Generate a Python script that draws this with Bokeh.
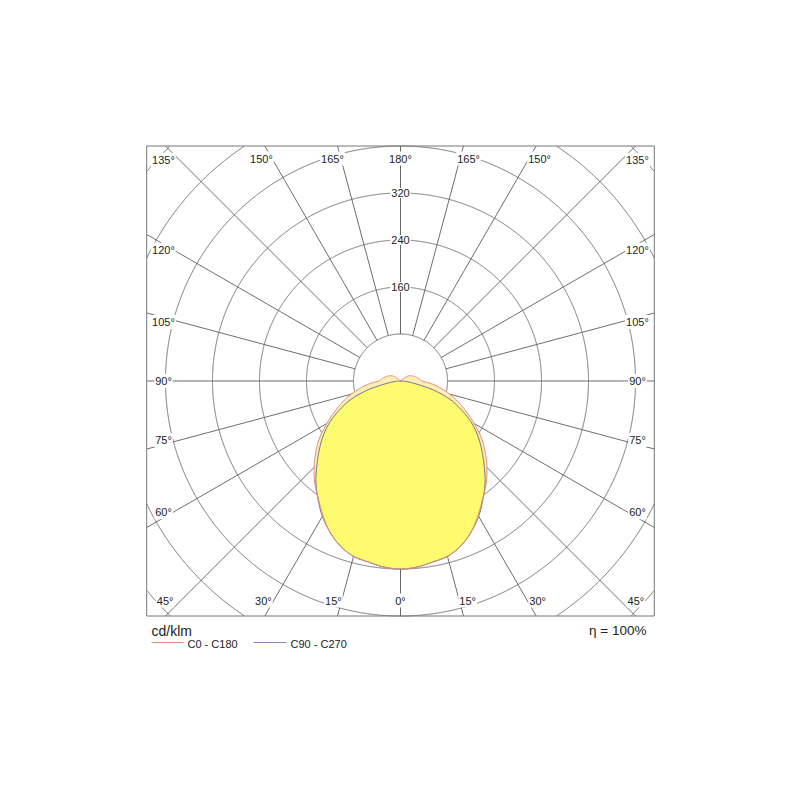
import numpy as np
from bokeh.plotting import figure
from bokeh.models import Range1d
from bokeh.core.properties import value
from bokeh.embed import file_html
from bokeh.resources import INLINE

# ---------------- data (cd/klm) ----------------
gamma_deg = [0, 5, 10, 15, 20, 25, 30, 35, 40, 45, 50, 55, 60, 65, 70, 75, 80, 85, 90,
             95, 100, 105, 110, 115, 120, 125, 130, 135, 140, 145, 150, 155, 160, 165, 170, 175, 180]
c0_c180 = [320, 318, 313, 309, 299, 284, 264, 244, 227, 208, 188, 168, 145, 124, 105, 87, 69, 53, 37,
           33, 30, 27, 24, 21, 18, 14, 6, 0, 0, 0, 0, 0, 0, 0, 0, 0, 0]
c90_c270 = [320, 318, 313, 309, 299, 284, 266, 245, 224, 201, 180, 160, 138, 113, 88, 56, 24, 8, 0,
            0, 0, 0, 0, 0, 0, 0, 0, 0, 0, 0, 0, 0, 0, 0, 0, 0, 0]
ring_values = [80, 160, 240, 320, 400, 480, 560]
ring_labels = ["160", "240", "320"]
ring_label_values = [160, 240, 320]
spoke_angles = [0, 15, 30, 45, 60, 75, 90, 105, 120, 135, 150, 165, 180]
unit_text = "cd/klm"
eta_text = "η = 100%"
legend_names = ["C0 - C180", "C90 - C270"]

# ---------------- geometry ----------------
W = H = 784
S = 0.5875             # px per cd/klm
CX, CY = 400.0, 380.5  # page px of the pole
OFF = 0.0              # page px of figure origin
BOX_X, BOX_Y = 432.0, 400.0


def P(x, y):
    return (x - CX) / S, (CY - y) / S


p = figure(width=W, height=H, output_backend="svg", toolbar_location=None,
           x_axis_type=None, y_axis_type=None, min_border=0,
           x_range=Range1d((OFF - CX) / S, (OFF + W - CX) / S),
           y_range=Range1d((CY - OFF - H) / S, (CY - OFF) / S))
p.outline_line_color = None
p.grid.visible = False
p.background_fill_color = "white"
p.border_fill_color = "white"

GRID = "#666666"

# rings clipped to the box
th = np.linspace(0, 2 * np.pi, 2881)
for r in ring_values:
    x = r * np.cos(th)
    y = r * np.sin(th)
    m = (np.abs(x) <= BOX_X) & (np.abs(y) <= BOX_Y)
    x = np.where(m, x, np.nan)
    y = np.where(m, y, np.nan)
    p.line(x, y, line_color=GRID, line_width=0.95)

# spokes from the 80 ring to the box edge
x0s, y0s, x1s, y1s = [], [], [], []
for g in spoke_angles:
    for sgn in (1, -1):
        gr = np.radians(g)
        dx, dy = sgn * np.sin(gr), -np.cos(gr)
        tx = BOX_X / abs(dx) if abs(dx) > 1e-9 else np.inf
        ty = BOX_Y / abs(dy) if abs(dy) > 1e-9 else np.inf
        t = min(tx, ty)
        x0s.append(80 * dx); y0s.append(80 * dy)
        x1s.append(t * dx); y1s.append(t * dy)
p.segment(x0s, y0s, x1s, y1s, line_color=GRID, line_width=0.95)


def curve(vals, n=8):
    g = np.radians(np.array(gamma_deg, dtype=float))
    v = np.array(vals, dtype=float)
    xr, yr = v * np.sin(g), -v * np.cos(g)
    xl, yl = -xr[::-1], yr[::-1]
    X = np.concatenate([xr, xl[1:-1]])
    Y = np.concatenate([yr, yl[1:-1]])
    # closed Catmull-Rom path through the measured points
    N = len(X)
    t = np.linspace(0, 1, n, endpoint=False)
    ox, oy = [], []
    for i in range(N):
        p0, p1, p2, p3 = (i - 1) % N, i, (i + 1) % N, (i + 2) % N
        for A, out in ((X, ox), (Y, oy)):
            a0, a1, a2, a3 = A[p0], A[p1], A[p2], A[p3]
            out.extend(0.5 * (2 * a1 + (-a0 + a2) * t + (2 * a0 - 5 * a1 + 4 * a2 - a3) * t ** 2
                              + (-a0 + 3 * a1 - 3 * a2 + a3) * t ** 3))
    ox.append(ox[0]); oy.append(oy[0])
    return np.array(ox), np.array(oy)


xa, ya = curve(c0_c180)
xb, yb = curve(c90_c270)
p.patch(xa, ya, fill_color="#fdeeb6", line_color=None)
p.patch(xb, yb, fill_color="#fffb6e", line_color=None)
p.line(xb, yb, line_color="#6f7290", line_width=1)
p.line(xa, ya, line_color="#e58a78", line_width=1)

# box
p.quad(left=-BOX_X, right=BOX_X, bottom=-BOX_Y, top=BOX_Y,
       fill_color=None, line_color="#777777", line_width=1)

FONT = value("Liberation Sans")
TXT = "#222222"

# ring value labels
p.text([0] * len(ring_labels), ring_label_values, text=ring_labels,
       text_font=FONT, text_font_size="11px", text_color=TXT,
       text_align="center", text_baseline="middle",
       background_fill_color="white", padding=1)

# angle labels
IN_SIDE = 237 / S
IN_TOP = 222.5 / S
IN_BOT = 219.5 / S
lx, ly, lt = [], [], []
for g in spoke_angles:
    for sgn in ((1, -1) if g not in (0, 180) else (1,)):
        gr = np.radians(g)
        dx, dy = np.sin(gr), -np.cos(gr)
        hy = IN_TOP if dy > 0 else IN_BOT
        tx = IN_SIDE / abs(dx) if abs(dx) > 1e-9 else np.inf
        ty = hy / abs(dy) if abs(dy) > 1e-9 else np.inf
        ga = g
        if g not in (0, 90, 180):
            step = 2 if ty < tx else 1
            ga = g + step if g < 90 else g - step
        gr = np.radians(ga)
        dx, dy = np.sin(gr), -np.cos(gr)
        hy = IN_TOP if dy > 0 else IN_BOT
        tx = IN_SIDE / abs(dx) if abs(dx) > 1e-9 else np.inf
        ty = hy / abs(dy) if abs(dy) > 1e-9 else np.inf
        t = min(tx, ty)
        lx.append(sgn * t * dx)
        ly.append(t * dy)
        lt.append(f"{g}°")
p.text(lx, ly, text=lt, text_font=FONT, text_font_size="11px", text_color=TXT,
       text_align="center", text_baseline="middle",
       background_fill_color="white", padding=1)

# bottom texts
ux, uy = P(151, 630)
p.text([ux], [uy], text=[unit_text], text_font=FONT, text_font_size="14px",
       text_color=TXT, text_align="left", text_baseline="middle")
ex, ey = P(646, 630)
p.text([ex], [ey], text=[eta_text], text_font=FONT, text_font_size="13.5px",
       text_color=TXT, text_align="right", text_baseline="middle")

# legend
for (x0, x1, tx0), name, col in zip([(151, 183, 187), (253, 286, 290)], legend_names,
                                   ["#e58a78", "#8a8ac0"]):
    a0 = P(x0, 642)
    a1 = P(x1, 642)
    p.line([a0[0], a1[0]], [a0[1], a1[1]], line_color=col, line_width=1)
    t0 = P(tx0, 643.5)
    p.text([t0[0]], [t0[1]], text=[name], text_font=FONT, text_font_size="11px",
           text_color=TXT, text_align="left", text_baseline="middle")

open("out.html", "w").write(file_html(p, INLINE))
